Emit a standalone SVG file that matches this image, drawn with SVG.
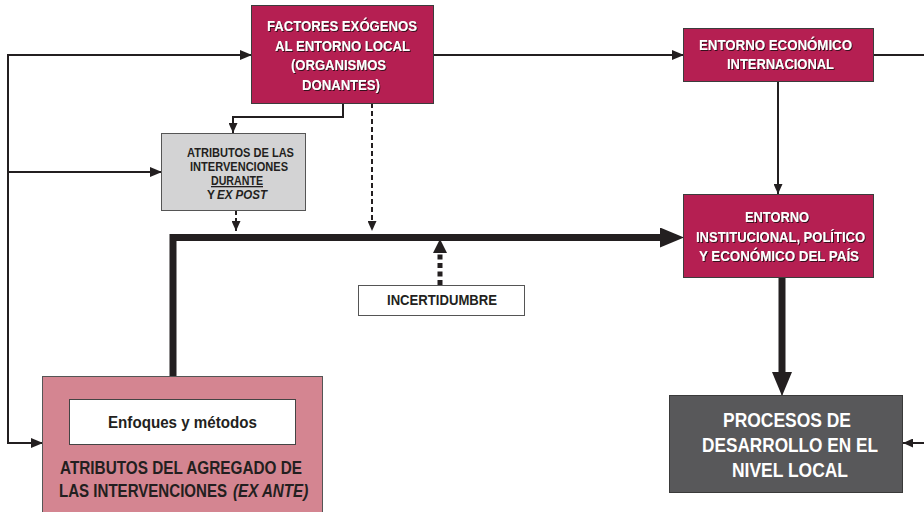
<svg xmlns="http://www.w3.org/2000/svg" width="924" height="512" viewBox="0 0 924 512">
  <defs>
    <marker id="ah" markerWidth="12" markerHeight="10" refX="11" refY="5" orient="auto" markerUnits="userSpaceOnUse">
      <path d="M0,0 L12,5 L0,10 Z" fill="#231f20"/>
    </marker>
    <marker id="ahs" markerWidth="10" markerHeight="9" refX="10" refY="4.5" orient="auto" markerUnits="userSpaceOnUse">
      <path d="M0,0 L10,4.5 L0,9 Z" fill="#231f20"/>
    </marker>
    <marker id="ahb" markerWidth="24" markerHeight="20" refX="23" refY="10" orient="auto" markerUnits="userSpaceOnUse">
      <path d="M0,0 L24,10 L0,20 Z" fill="#231f20"/>
    </marker>
    <marker id="ahu" markerWidth="14" markerHeight="14" refX="13" refY="7" orient="auto" markerUnits="userSpaceOnUse">
      <path d="M0,0 L14,7 L0,14 Z" fill="#231f20"/>
    </marker>
    <filter id="sh" x="-10%" y="-10%" width="120%" height="130%">
      <feDropShadow dx="1" dy="1" stdDeviation="0.4" flood-color="#2a0a14" flood-opacity="0.9"/>
    </filter>
  </defs>
  <style>
    .mag { fill: #b51f52; stroke: #3c3c3c; stroke-width: 1; }
    .txt { font-family: "Liberation Sans", Arial, sans-serif; font-weight: bold; text-anchor: middle; }
    .st { text-anchor: start; }
    .w { fill: #ffffff; filter: url(#sh); }
    .d { fill: #231f20; }
    .ln { fill: none; stroke: #231f20; stroke-width: 2; }
  </style>

  <rect width="924" height="512" fill="#ffffff"/>

  <!-- connectors -->
  <g id="connectors">
    <!-- left feedback line -->
    <path class="ln" d="M251,55 H8 V443 H42" marker-end="url(#ah)"/>
    <path class="ln" d="M8,55 H251" marker-end="url(#ah)"/>
    <path class="ln" d="M8,172 H161" marker-end="url(#ah)"/>
    <!-- factores to entorno economico -->
    <path class="ln" d="M433,55 H683" marker-end="url(#ah)"/>
    <path class="ln" d="M873,55 H924"/>
    <!-- factores to atributos durante -->
    <path class="ln" d="M343,103 V117 H233 V133" marker-end="url(#ahs)"/>
    <!-- entorno economico down -->
    <path class="ln" d="M778,81 V194" marker-end="url(#ahs)"/>
    <!-- dashed arrows onto main line -->
    <path class="ln" d="M372,103 V231" stroke-dasharray="5,3" marker-end="url(#ahs)"/>
    <path class="ln" d="M236,210 V231" stroke-dasharray="5,3" marker-end="url(#ahs)"/>
    <!-- main thick line -->
    <path d="M173,376 V237.5 H662" fill="none" stroke="#231f20" stroke-width="7"/>
    <path d="M660,237.5 H683" fill="none" stroke="#231f20" stroke-width="1" marker-end="url(#ahb)"/>
    <!-- uncertainty up -->
    <path d="M440,285 V252" fill="none" stroke="#231f20" stroke-width="5" stroke-dasharray="5,3.5"/>
    <path d="M440,252 V240" fill="none" stroke="#231f20" stroke-width="1" marker-end="url(#ahu)"/>
    <!-- institucional down to procesos -->
    <path d="M782,277 V377" fill="none" stroke="#231f20" stroke-width="7"/>
    <path d="M782,375 V395" fill="none" stroke="#231f20" stroke-width="1" marker-end="url(#ahb)"/>
    <!-- right input to procesos -->
    <path class="ln" d="M924,443 H903" marker-end="url(#ahs)"/>
  </g>

  <g id="factores">
    <rect class="mag" x="251.5" y="5.5" width="182" height="98"/>
    <text class="txt w" font-size="15" x="342" y="31" textLength="150" lengthAdjust="spacingAndGlyphs">FACTORES EXÓGENOS</text>
    <text class="txt w" font-size="15" x="342.5" y="51" textLength="135" lengthAdjust="spacingAndGlyphs">AL ENTORNO LOCAL</text>
    <text class="txt w" font-size="15" x="338.5" y="70" textLength="95" lengthAdjust="spacingAndGlyphs">(ORGANISMOS</text>
    <text class="txt w" font-size="15" x="341" y="90" textLength="78" lengthAdjust="spacingAndGlyphs">DONANTES)</text>
  </g>

  <g id="entorno-economico">
    <rect class="mag" x="683.5" y="28.5" width="190" height="53"/>
    <text class="txt w" font-size="15" x="775.5" y="50" textLength="153" lengthAdjust="spacingAndGlyphs">ENTORNO ECONÓMICO</text>
    <text class="txt w" font-size="15" x="780.5" y="69" textLength="107" lengthAdjust="spacingAndGlyphs">INTERNACIONAL</text>
  </g>

  <g id="atributos-durante">
    <rect x="161.5" y="133.5" width="144" height="77" fill="#d3d3d4" stroke="#555555" stroke-width="1"/>
    <text class="txt d" font-size="13" x="240.5" y="157" textLength="107" lengthAdjust="spacingAndGlyphs">ATRIBUTOS DE LAS</text>
    <text class="txt d" font-size="13" x="239" y="171" textLength="98" lengthAdjust="spacingAndGlyphs">INTERVENCIONES</text>
    <text class="txt d" font-size="13" x="237" y="185" textLength="52" lengthAdjust="spacingAndGlyphs" text-decoration="underline">DURANTE</text>
    <text class="txt d st" font-size="13" x="207" y="199" textLength="8" lengthAdjust="spacingAndGlyphs">Y</text>
    <text class="txt d st" font-size="13" x="217" y="199" textLength="50" lengthAdjust="spacingAndGlyphs" font-style="italic">EX POST</text>
  </g>

  <g id="entorno-institucional">
    <rect class="mag" x="683.5" y="194.5" width="190" height="83"/>
    <text class="txt w" font-size="15" x="777" y="222" textLength="64" lengthAdjust="spacingAndGlyphs">ENTORNO</text>
    <text class="txt w" font-size="15" x="780.5" y="242" textLength="169" lengthAdjust="spacingAndGlyphs">INSTITUCIONAL, POLÍTICO</text>
    <text class="txt w" font-size="15" x="779" y="261" textLength="160" lengthAdjust="spacingAndGlyphs">Y ECONÓMICO DEL PAÍS</text>
  </g>

  <g id="incertidumbre">
    <rect x="358.5" y="285.5" width="166" height="30" fill="#ffffff" stroke="#555555" stroke-width="1"/>
    <text class="txt d" font-size="14" x="442" y="305" textLength="110" lengthAdjust="spacingAndGlyphs">INCERTIDUMBRE</text>
  </g>

  <g id="atributos-agregado">
    <rect x="42.5" y="376.5" width="280" height="140" fill="#d48591" stroke="#555555" stroke-width="1"/>
    <rect x="69.5" y="399.5" width="226" height="45" fill="#ffffff" stroke="#444444" stroke-width="1"/>
    <text class="txt d" font-size="17" x="182.5" y="428" textLength="149" lengthAdjust="spacingAndGlyphs">Enfoques y métodos</text>
    <text class="txt d" font-size="18" x="181" y="474" textLength="242" lengthAdjust="spacingAndGlyphs">ATRIBUTOS DEL AGREGADO DE</text>
    <!-- second line is set condensed by a horizontal scale -->
    <text class="txt d st" font-size="18" transform="translate(59,497) scale(0.836,1)" x="0" y="0" textLength="201" lengthAdjust="spacingAndGlyphs">LAS INTERVENCIONES</text>
    <text class="txt d st" font-size="18" transform="translate(233,497) scale(0.836,1)" x="0" y="0" textLength="90" lengthAdjust="spacingAndGlyphs" font-style="italic">(EX ANTE)</text>
  </g>

  <g id="procesos">
    <rect x="669.5" y="395.5" width="233" height="97" fill="#58585a" stroke="#3a3a3a" stroke-width="1"/>
    <text class="txt" fill="#ffffff" font-size="20" x="787" y="427" textLength="128" lengthAdjust="spacingAndGlyphs">PROCESOS DE</text>
    <text class="txt" fill="#ffffff" font-size="20" x="790" y="452" textLength="176" lengthAdjust="spacingAndGlyphs">DESARROLLO EN EL</text>
    <text class="txt" fill="#ffffff" font-size="20" x="790" y="477" textLength="116" lengthAdjust="spacingAndGlyphs">NIVEL LOCAL</text>
  </g>
</svg>
